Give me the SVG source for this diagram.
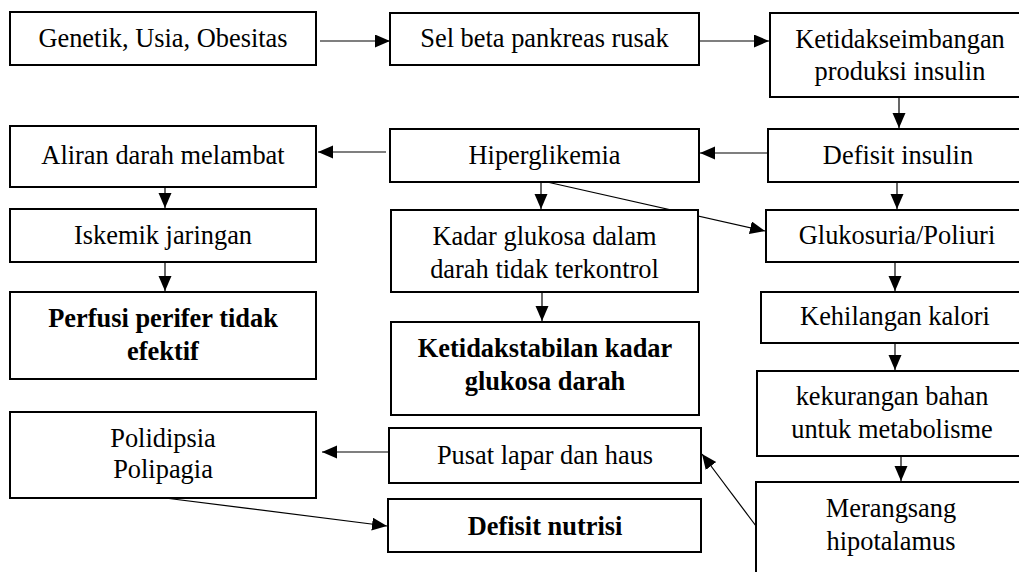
<svg xmlns="http://www.w3.org/2000/svg" width="1019" height="572" viewBox="0 0 1019 572" font-family="'Liberation Serif', 'DejaVu Serif', serif">
<style>
.box{fill:#fff;stroke:#000;stroke-width:2}
.t{font-family:'Liberation Serif','DejaVu Serif',serif;font-size:26.4px;fill:#000;text-anchor:middle}
.b{font-weight:bold}
.c{stroke:#000;stroke-width:1.2;fill:none;marker-end:url(#ah)}
</style>
<defs>
<marker id="ah" markerUnits="userSpaceOnUse" markerWidth="16" markerHeight="14" refX="15" refY="6.5" orient="auto">
<path d="M0,0 L15,6.5 L0,13 z" fill="#000"/>
</marker>
</defs>
<rect width="1019" height="572" fill="#fff"/>
<g id="connectors">
<line class="c" x1="320" y1="41" x2="390" y2="41"/>
<line class="c" x1="699" y1="41" x2="769" y2="41"/>
<line class="c" x1="899" y1="98" x2="899" y2="128"/>
<line class="c" x1="768" y1="153" x2="700" y2="153"/>
<line class="c" x1="386" y1="152" x2="318" y2="152"/>
<line class="c" x1="165" y1="188" x2="165" y2="208"/>
<line class="c" x1="165" y1="263" x2="165" y2="291"/>
<line class="c" x1="541" y1="183" x2="541" y2="209"/>
<line class="c" x1="547" y1="182" x2="765" y2="231"/>
<line class="c" x1="897" y1="183" x2="897" y2="209"/>
<line class="c" x1="542" y1="293" x2="542" y2="321"/>
<line class="c" x1="895" y1="263" x2="895" y2="291"/>
<line class="c" x1="895" y1="344" x2="895" y2="370"/>
<line class="c" x1="901" y1="457" x2="901" y2="481"/>
<line class="c" x1="756" y1="526" x2="702" y2="454"/>
<line class="c" x1="392" y1="452" x2="322" y2="452"/>
<line class="c" x1="165" y1="498" x2="387" y2="526"/>
</g>
<g id="genetik"><rect class="box" x="10" y="12" width="306" height="53"/><text class="t" x="163" y="47">Genetik, Usia, Obesitas</text></g>
<g id="selbeta"><rect class="box" x="390" y="13" width="309" height="52"/><text class="t" x="544.5" y="47">Sel beta pankreas rusak</text></g>
<g id="ketidakseimbangan"><rect class="box" x="770" y="13" width="260" height="84"/><text class="t" x="900" y="48">Ketidakseimbangan</text><text class="t" x="900" y="80">produksi insulin</text></g>
<g id="aliran"><rect class="box" x="10" y="126" width="306" height="61"/><text class="t" x="163" y="164">Aliran darah melambat</text></g>
<g id="hiperglikemia"><rect class="box" x="390" y="129" width="309" height="53"/><text class="t" x="544.5" y="164">Hiperglikemia</text></g>
<g id="defisitinsulin"><rect class="box" x="768" y="129" width="262" height="53"/><text class="t" x="898" y="164">Defisit insulin</text></g>
<g id="iskemik"><rect class="box" x="10" y="209" width="306" height="53"/><text class="t" x="163" y="244">Iskemik jaringan</text></g>
<g id="kadar"><rect class="box" x="391" y="210" width="307" height="82"/><text class="t" x="544.5" y="245">Kadar glukosa dalam</text><text class="t" x="544.5" y="278">darah tidak terkontrol</text></g>
<g id="glukosuria"><rect class="box" x="766" y="210" width="264" height="52"/><text class="t" x="897" y="244">Glukosuria/Poliuri</text></g>
<g id="perfusi"><rect class="box" x="10" y="292" width="306" height="87"/><text class="t b" x="163" y="327">Perfusi perifer tidak</text><text class="t b" x="163" y="360">efektif</text></g>
<g id="ketidakstabilan"><rect class="box" x="391" y="322" width="308" height="93"/><text class="t b" x="545" y="357">Ketidakstabilan kadar</text><text class="t b" x="545" y="390">glukosa darah</text></g>
<g id="kehilangan"><rect class="box" x="761" y="292" width="269" height="51"/><text class="t" x="895" y="325">Kehilangan kalori</text></g>
<g id="kekurangan"><rect class="box" x="757" y="371" width="273" height="85"/><text class="t" x="892" y="405">kekurangan bahan</text><text class="t" x="892" y="438">untuk metabolisme</text></g>
<g id="polidipsia"><rect class="box" x="10" y="412" width="306" height="86"/><text class="t" x="163" y="447">Polidipsia</text><text class="t" x="163" y="478">Polipagia</text></g>
<g id="pusat"><rect class="box" x="389" y="428" width="312" height="55"/><text class="t" x="545" y="464">Pusat lapar dan haus</text></g>
<g id="defisitnutrisi"><rect class="box" x="388" y="499" width="313" height="53"/><text class="t b" x="545" y="535">Defisit nutrisi</text></g>
<g id="merangsang"><rect class="box" x="756" y="482" width="274" height="120"/><text class="t" x="891" y="517">Merangsang</text><text class="t" x="891" y="550">hipotalamus</text></g>
</svg>
